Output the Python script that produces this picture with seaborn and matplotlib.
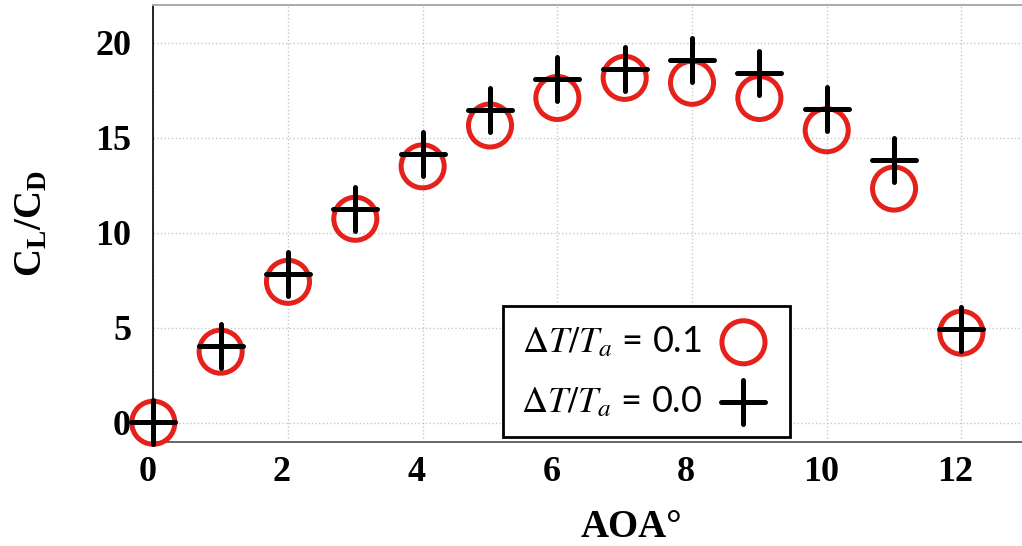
import matplotlib
matplotlib.use('Agg')
import matplotlib.pyplot as plt
import matplotlib.transforms as mtransforms
from matplotlib.font_manager import FontProperties
import seaborn as sns
import pandas as pd

# angle of attack (deg)
aoa = [0, 1, 2, 3, 4, 5, 6, 7, 8, 9, 10, 11, 12]
# CL/CD, dT/Ta = 0.1 (red circles)
cl_cd_01 = [0.0, 3.74, 7.42, 10.74, 13.5, 15.65, 17.1, 18.16, 17.9, 17.1, 15.4, 12.33, 4.74]
# CL/CD, dT/Ta = 0.0 (black plus)
cl_cd_00 = [0.05, 4.03, 7.84, 11.26, 14.17, 16.45, 18.1, 18.6, 19.12, 18.42, 16.54, 13.82, 4.96]

labels = [r'$\Delta T/T_a$ = 0.1', r'$\Delta T/T_a$ = 0.0']
x_ticks = [0, 2, 4, 6, 8, 10, 12]
y_ticks = [0, 5, 10, 15, 20]

df01 = pd.DataFrame({'aoa': aoa, 'ratio': cl_cd_01})
df00 = pd.DataFrame({'aoa': aoa, 'ratio': cl_cd_00})

sns.set_style('white')
plt.rcParams['font.family'] = ['Liberation Serif', 'DejaVu Serif']
plt.rcParams['mathtext.fontset'] = 'custom'
plt.rcParams['mathtext.bf'] = 'Liberation Serif:bold'
plt.rcParams['mathtext.rm'] = 'Liberation Serif'
plt.rcParams['text.color'] = 'black'
plt.rcParams['axes.labelcolor'] = 'black'

RED = '#e4211b'
fig = plt.figure(figsize=(10.22, 5.46), dpi=100)
ax = fig.add_axes([0.15, 0.191, 0.85, 0.80])

ms = 31
sns.scatterplot(data=df01, x='aoa', y='ratio', ax=ax, marker='o', s=ms**2,
                facecolors='none', edgecolor=RED, linewidth=3.6,
                label=labels[0], clip_on=False, zorder=3)
sns.scatterplot(data=df00, x='aoa', y='ratio', ax=ax, marker='+', s=ms**2,
                color='black', linewidth=3.6, label=labels[1],
                clip_on=False, zorder=4)
for coll in ax.collections:
    coll.set_capstyle('round')

ax.set_xlim(0, 12.9)
ax.set_ylim(-1, 22)
ax.set_xticks(x_ticks)
ax.set_yticks(y_ticks)
ax.grid(True, linestyle=':', color='#c8c8c8', linewidth=1.0)

for side in ['left', 'bottom', 'top']:
    ax.spines[side].set_visible(True)
ax.spines['left'].set_color('black')
ax.spines['left'].set_linewidth(1.2)
ax.spines['bottom'].set_color('#666666')
ax.spines['bottom'].set_linewidth(1.4)
ax.spines['top'].set_color('#aaaaaa')
ax.spines['top'].set_linewidth(1.4)
ax.spines['right'].set_visible(False)

ax.tick_params(axis='both', direction='inout', length=4, width=1, color='#555555',
               labelsize=26, labelcolor='black')
ax.tick_params(axis='y', pad=14)
ax.tick_params(axis='x', pad=8)
for lab in ax.get_xticklabels() + ax.get_yticklabels():
    lab.set_fontweight('bold')
offset = mtransforms.ScaledTranslation(-6 / 100, 0, fig.dpi_scale_trans)
for lab in ax.get_xticklabels():
    lab.set_transform(lab.get_transform() + offset)

ax.set_xlabel('AOA°', fontsize=28, fontweight='bold')
ax.set_ylabel(r'$\mathbf{C_L/C_D}$', fontsize=28)
ax.xaxis.set_label_coords(0.55, -0.155)
ax.yaxis.set_label_coords(-0.118, 0.5)

prop = FontProperties(family=['Lato', 'DejaVu Sans'], size=26, math_fontfamily='stix')
leg = ax.legend(loc='lower left', bbox_to_anchor=(0.402, 0.0115), borderaxespad=0,
                prop=prop, markerfirst=False, fancybox=False, framealpha=1,
                edgecolor='black', handletextpad=0.35, borderpad=0.5,
                labelspacing=0.7, handlelength=1.6)
leg.get_frame().set_linewidth(2)
for h in leg.legend_handles:
    h.set_capstyle('round')

fig.savefig('out.png', dpi=100)
